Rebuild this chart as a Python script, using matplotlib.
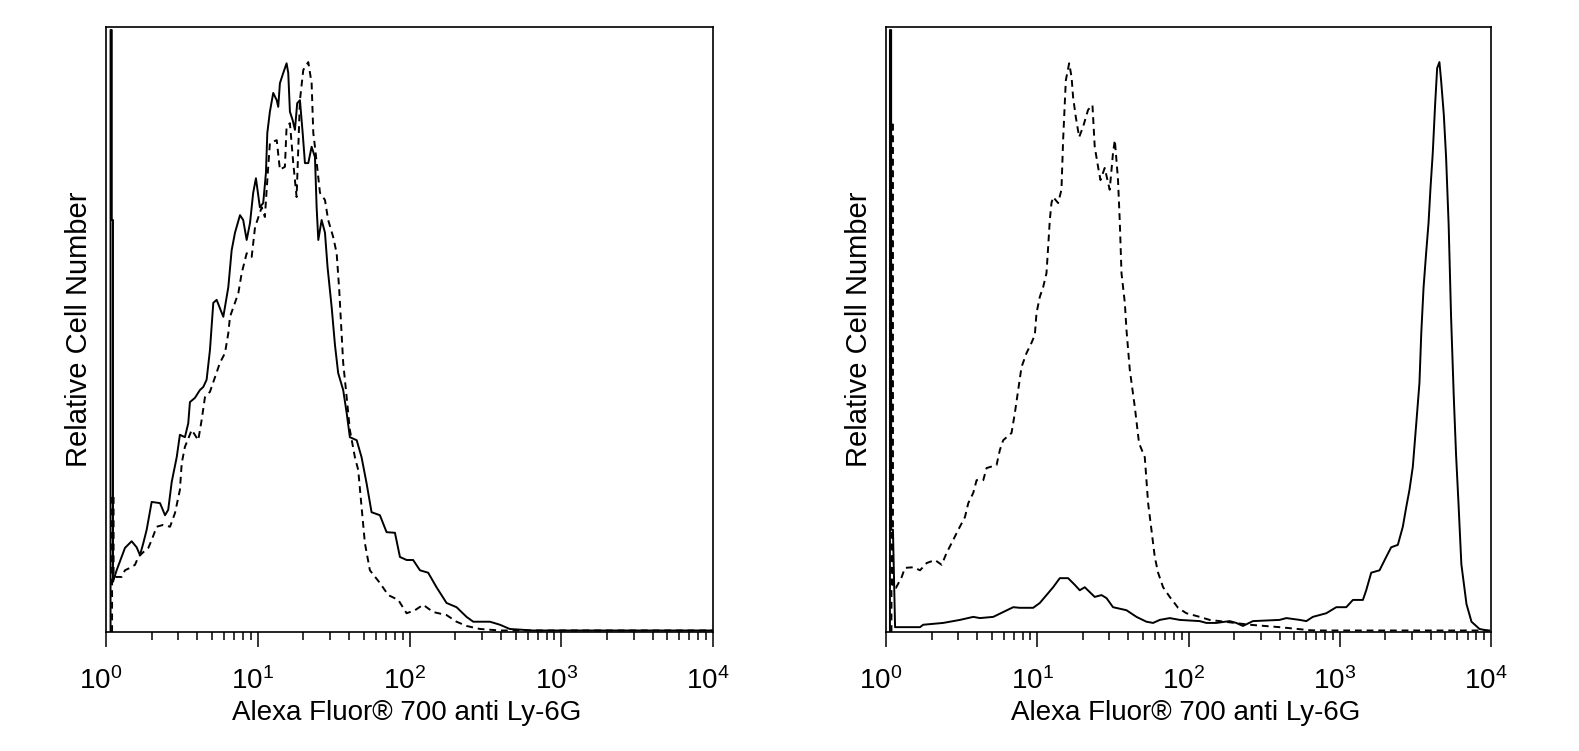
import matplotlib
matplotlib.use('Agg')
import matplotlib.pyplot as plt
import matplotlib.transforms as mtransforms
from matplotlib.ticker import LogLocator, NullFormatter, FixedLocator
import numpy as np

plt.rcParams['font.family'] = ['Liberation Sans', 'DejaVu Sans']
plt.rcParams['mathtext.fontset'] = 'custom'
plt.rcParams['mathtext.rm'] = 'Liberation Sans'
plt.rcParams['mathtext.default'] = 'regular'

# ── data: x in log10 decades, y = relative cell number (% of axis height)
left_solid_x = [0.030, 0.030, 0.038, 0.038, 0.046, 0.046, 0.070, 0.125, 0.169, 0.202, 0.224, 0.246, 0.268,
                0.301, 0.356, 0.389, 0.410, 0.433, 0.466, 0.487, 0.520, 0.542, 0.553, 0.586, 0.619, 0.641,
                0.663, 0.685, 0.707, 0.729, 0.773, 0.806, 0.828, 0.850, 0.883, 0.904, 0.927, 0.949, 0.970,
                0.988, 1.014, 1.036, 1.054, 1.063, 1.080, 1.102, 1.125, 1.135, 1.146, 1.168, 1.190, 1.201,
                1.212, 1.230, 1.245, 1.260, 1.278, 1.296, 1.311, 1.333, 1.355, 1.377, 1.388, 1.399, 1.421,
                1.443, 1.460, 1.487, 1.509, 1.530, 1.563, 1.586, 1.607, 1.652, 1.684, 1.717, 1.750, 1.805,
                1.849, 1.904, 1.937, 1.981, 2.024, 2.069, 2.123, 2.178, 2.244, 2.310, 2.376, 2.420, 2.530,
                2.596, 2.661, 2.813, 4.0]
left_solid_y = [0, 99.5, 99.5, 68.1, 68.1, 8.3, 10.2, 13.9, 15.0, 14.0, 12.7, 14.7, 16.9,
                21.5, 21.3, 19.3, 20.2, 24.8, 28.9, 32.6, 32.2, 34.5, 38.0, 38.7, 40.0, 40.5,
                41.7, 46.6, 54.4, 54.9, 52.1, 57.0, 63.1, 66.0, 68.9, 68.1, 64.8, 67.6, 72.6,
                75.0, 70.2, 70.9, 75.9, 82.5, 86.0, 89.1, 87.9, 86.8, 90.7, 92.4, 94.0, 92.4,
                86.0, 84.6, 83.0, 87.4, 87.9, 82.5, 77.5, 77.5, 80.2, 78.5, 70.2, 64.8, 68.1,
                66.0, 60.3, 53.7, 47.4, 42.8, 40.0, 36.2, 32.2, 31.7, 28.9, 24.6, 19.8, 19.3,
                16.5, 16.4, 12.4, 11.9, 11.9, 10.2, 9.8, 7.4, 4.8, 4.1, 2.5, 1.7, 1.7,
                1.2, 0.5, 0.25, 0.25]

left_dash_x = [0.040, 0.040, 0.050, 0.050, 0.103, 0.125, 0.158, 0.191, 0.213, 0.246, 0.279, 0.301, 0.334,
               0.377, 0.422, 0.455, 0.487, 0.499, 0.520, 0.565, 0.608, 0.630, 0.652, 0.685, 0.718, 0.751,
               0.784, 0.806, 0.817, 0.872, 0.894, 0.927, 0.960, 0.982, 1.026, 1.047, 1.063, 1.080, 1.125,
               1.146, 1.179, 1.190, 1.212, 1.234, 1.256, 1.278, 1.300, 1.333, 1.355, 1.366, 1.377, 1.410,
               1.443, 1.464, 1.497, 1.520, 1.537, 1.553, 1.563, 1.586, 1.607, 1.640, 1.662, 1.684, 1.706,
               1.739, 1.805, 1.860, 1.926, 1.981, 2.036, 2.090, 2.156, 2.244, 2.310, 2.376, 2.464, 2.596, 4.0]
left_dash_y = [0, 22.6, 22.6, 9.1, 9.1, 10.2, 10.6, 11.1, 12.4, 13.2, 13.9, 15.2, 17.4,
               17.7, 17.4, 19.7, 23.5, 27.9, 30.6, 33.4, 31.7, 35.0, 38.8, 39.7, 42.1, 44.5,
               46.1, 49.4, 52.1, 56.0, 59.3, 62.6, 62.0, 66.9, 70.2, 68.6, 74.7, 80.8, 81.3,
               76.4, 76.9, 83.5, 84.1, 77.5, 71.9, 87.9, 92.9, 94.2, 90.7, 82.5, 80.2, 72.6,
               71.4, 68.1, 65.3, 62.6, 56.5, 49.1, 44.5, 38.8, 33.4, 28.9, 26.8, 20.7, 14.7,
               10.2, 8.1, 6.1, 5.3, 3.1, 3.6, 4.5, 3.3, 2.8, 1.7, 1.0, 0.5, 0.25, 0.25]

right_solid_x = [0.026, 0.026, 0.034, 0.034, 0.046, 0.060, 0.081, 0.225, 0.246, 0.378, 0.489, 0.577, 0.621,
                 0.709, 0.775, 0.841, 0.885, 0.973, 1.017, 1.061, 1.105, 1.149, 1.204, 1.248, 1.281, 1.314,
                 1.347, 1.380, 1.425, 1.458, 1.501, 1.590, 1.656, 1.722, 1.766, 1.810, 1.876, 1.942, 2.074,
                 2.118, 2.184, 2.272, 2.316, 2.360, 2.426, 2.602, 2.647, 2.735, 2.779, 2.822, 2.911, 2.977,
                 3.043, 3.087, 3.153, 3.175, 3.208, 3.263, 3.307, 3.340, 3.384, 3.417, 3.440, 3.461, 3.483,
                 3.506, 3.527, 3.539, 3.554, 3.571, 3.587, 3.600, 3.615, 3.631, 3.644, 3.659, 3.670, 3.688,
                 3.703, 3.720, 3.736, 3.754, 3.769, 3.785, 3.804, 3.838, 3.871, 3.924, 3.976]
right_solid_y = [0, 99.5, 99.5, 16.9, 16.9, 0.8, 0.8, 0.8, 1.2, 1.5, 2.0, 2.5, 2.3,
                 2.5, 3.3, 4.1, 4.0, 4.0, 4.8, 6.1, 7.4, 8.9, 8.9, 7.8, 6.9, 7.4,
                 6.6, 5.8, 6.1, 5.6, 4.1, 3.6, 2.5, 1.7, 1.5, 2.0, 2.3, 2.0, 1.8,
                 1.5, 1.5, 1.8, 1.5, 1.0, 1.8, 2.0, 2.3, 2.0, 1.8, 2.5, 3.1, 4.1,
                 4.1, 5.3, 5.3, 6.9, 9.8, 10.2, 12.4, 14.0, 14.4, 17.4, 20.7, 23.5, 27.3,
                 34.5, 41.2, 49.4, 56.9, 62.6, 67.6, 73.4, 79.2, 87.4, 93.2, 94.2, 91.2, 85.5,
                 78.5, 67.3, 52.1, 38.8, 29.3, 21.3, 11.2, 4.6, 1.7, 0.5, 0.25]

right_dash_x = [0.036, 0.036, 0.046, 0.046, 0.066, 0.104, 0.125, 0.180, 0.225, 0.269, 0.324, 0.368, 0.401,
                0.434, 0.478, 0.522, 0.544, 0.577, 0.599, 0.643, 0.665, 0.731, 0.753, 0.775, 0.830, 0.852,
                0.874, 0.896, 0.929, 0.962, 0.984, 0.995, 1.017, 1.039, 1.061, 1.072, 1.083, 1.094, 1.105,
                1.138, 1.160, 1.171, 1.189, 1.211, 1.227, 1.237, 1.255, 1.277, 1.303, 1.336, 1.365, 1.380,
                1.402, 1.418, 1.446, 1.479, 1.501, 1.513, 1.534, 1.546, 1.557, 1.579, 1.590, 1.612, 1.645,
                1.673, 1.711, 1.722, 1.733, 1.755, 1.777, 1.799, 1.832, 1.876, 1.931, 1.986, 2.074, 2.140,
                2.404, 2.602, 2.800, 2.853, 4.0]
right_dash_y = [0, 84.3, 84.3, 7.3, 7.3, 9.1, 10.6, 10.7, 10.2, 11.4, 11.9, 11.1, 13.1,
                14.7, 16.9, 19.0, 21.3, 23.0, 25.1, 25.1, 27.1, 27.6, 30.1, 31.7, 32.9, 36.2,
                40.0, 43.8, 46.1, 47.8, 49.1, 52.7, 55.4, 57.0, 59.3, 63.6, 68.1, 70.9, 71.9,
                70.9, 73.1, 81.3, 91.2, 94.0, 91.7, 88.4, 85.1, 81.8, 83.5, 86.3, 87.1, 80.2,
                76.9, 74.7, 76.7, 73.1, 79.2, 81.3, 74.7, 67.6, 59.3, 54.4, 49.9, 43.3, 37.2,
                31.2, 28.9, 25.1, 21.3, 16.9, 12.4, 9.8, 7.4, 5.8, 4.0, 3.1, 2.5, 2.0,
                1.2, 0.8, 0.3, 0.25, 0.25]

major_ticks = [1, 10, 100, 1000, 10000]
major_labels = ['$10^{0}$', '$10^{1}$', '$10^{2}$', '$10^{3}$', '$10^{4}$']
xlabel = 'Alexa Fluor® 700 anti Ly-6G'
ylabel = 'Relative Cell Number'

panels = [
    (left_solid_x, left_solid_y, left_dash_x, left_dash_y),
    (right_solid_x, right_solid_y, right_dash_x, right_dash_y),
]

fig = plt.figure(figsize=(15.79, 7.51), dpi=100)
fig.patch.set_facecolor('white')
ax_pos = [[106/1579, 1 - 632/751, 607/1579, 605/751],
          [886/1579, 1 - 632/751, 605/1579, 605/751]]

# nudge tick labels a little to the left, like the reference
shift = mtransforms.ScaledTranslation(-5/100, -2/100, fig.dpi_scale_trans)

for pos, (sx, sy, dx, dy) in zip(ax_pos, panels):
    ax = fig.add_axes(pos)
    ax.plot(np.power(10.0, dx), dy, color='black', lw=1.4, linestyle=(0, (3.5, 2.5)), zorder=3)
    ax.plot(np.power(10.0, sx), sy, color='black', lw=1.4, zorder=4)
    ax.set_xscale('log')
    ax.set_xlim(1, 10000)
    ax.set_ylim(0, 100)

    ax.xaxis.set_major_locator(FixedLocator(major_ticks))
    ax.set_xticklabels(major_labels)
    ax.xaxis.set_minor_locator(LogLocator(base=10, subs=np.arange(2, 10)))
    ax.xaxis.set_minor_formatter(NullFormatter())
    ax.tick_params(axis='x', which='major', direction='out', length=11, width=1.1,
                   labelsize=20, pad=13)
    ax.tick_params(axis='x', which='minor', direction='out', length=5.5, width=1.1)
    for lab in ax.get_xticklabels():
        lab.set_transform(lab.get_transform() + shift)
    ax.set_yticks([])
    for sp in ax.spines.values():
        sp.set_linewidth(1.2)

    ax.set_xlabel(xlabel, fontsize=20)
    ax.xaxis.set_label_coords(0.495, -0.112)
    ax.set_ylabel(ylabel, fontsize=21)
    ax.yaxis.set_label_coords(-0.022, 0.5)

plt.savefig('out.png', dpi=100, facecolor='white')
plt.close()
